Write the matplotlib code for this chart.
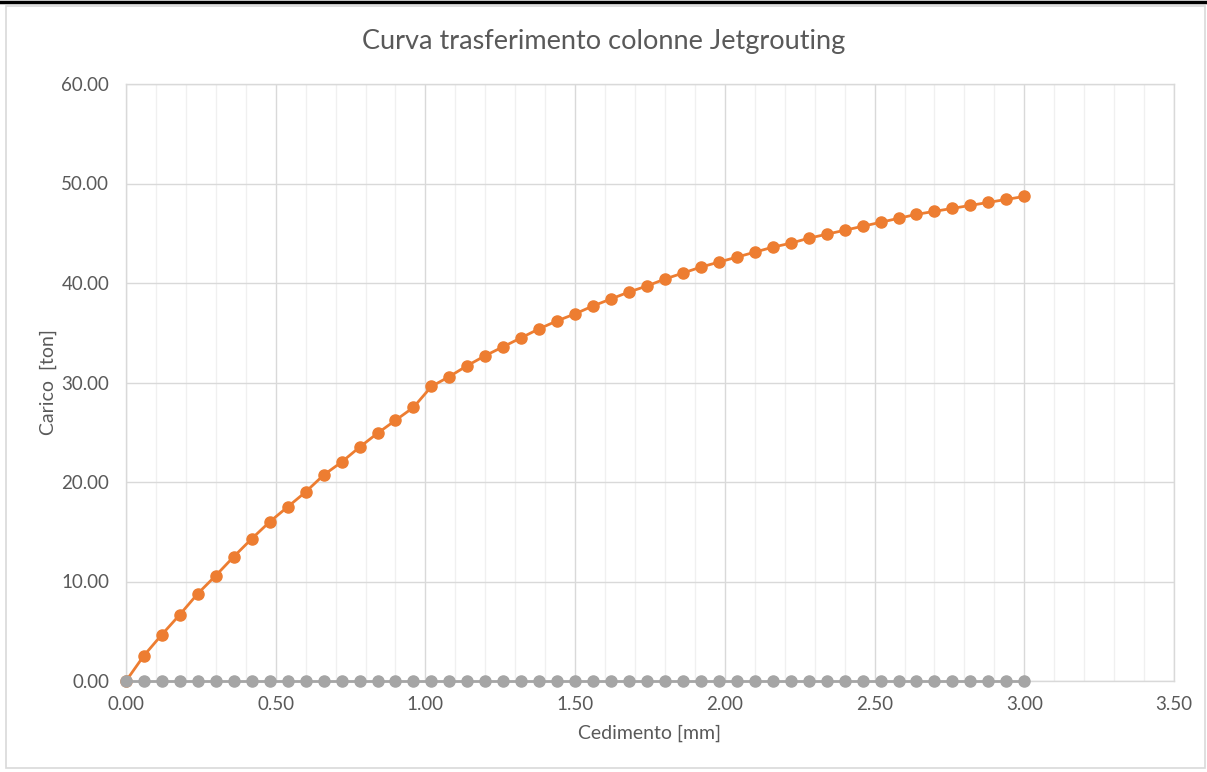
import matplotlib
matplotlib.use("Agg")
import matplotlib.pyplot as plt
from matplotlib.patches import Rectangle
from matplotlib.lines import Line2D
from matplotlib.ticker import MultipleLocator, FormatStrFormatter

plt.rcParams['font.family'] = ['Lato', 'DejaVu Sans']

# Data
cedimento = [round(0.06 * i, 2) for i in range(51)]
carico = [0.0, 2.56, 4.67, 6.68, 8.79, 10.6, 12.5, 14.3, 16.0, 17.5,
          19.0, 20.7, 22.0, 23.5, 24.9, 26.2, 27.5, 29.6, 30.6, 31.7,
          32.7, 33.6, 34.5, 35.4, 36.2, 36.9, 37.7, 38.4, 39.1, 39.7,
          40.4, 41.0, 41.6, 42.1, 42.6, 43.1, 43.6, 44.0, 44.5, 44.9,
          45.3, 45.7, 46.1, 46.5, 46.9, 47.2, 47.5, 47.8, 48.1, 48.4, 48.7]
zero_series = [0.0] * 51

title = "Curva trasferimento colonne Jetgrouting"
xlabel = "Cedimento [mm]"
ylabel = "Carico  [ton]"

W, H = 1207, 772
fig = plt.figure(figsize=(W / 100, H / 100), dpi=100)
fig.patch.set_facecolor("white")

# outer frame
fig.add_artist(Rectangle((6 / W, 4 / H), (W - 8) / W, (H - 10) / H, transform=fig.transFigure,
                         fill=False, edgecolor="#d9d9d9", linewidth=1.2))
fig.add_artist(Line2D([0, 1], [1 - 1.5 / H, 1 - 1.5 / H], transform=fig.transFigure,
                      color="black", linewidth=2.5))

ax = fig.add_axes([126 / W, (H - 681) / H, (1174 - 126) / W, (681 - 84) / H])

orange = "#ed7d31"
gray = "#a5a5a5"

ax.plot(cedimento, carico, color=orange, marker="o", markersize=8, linewidth=2, zorder=3, clip_on=False)
ax.plot(cedimento, zero_series, color=gray, marker="o", markersize=8, linewidth=2, zorder=4, clip_on=False)

ax.set_xlim(0, 3.5)
ax.set_ylim(0, 60)
ax.xaxis.set_major_locator(MultipleLocator(0.5))
ax.xaxis.set_minor_locator(MultipleLocator(0.1))
ax.yaxis.set_major_locator(MultipleLocator(10))
ax.xaxis.set_major_formatter(FormatStrFormatter("%.2f"))
ax.yaxis.set_major_formatter(FormatStrFormatter("%.2f"))

ax.grid(which="major", color="#d9d9d9", linewidth=1.0)
ax.grid(which="minor", axis="x", color="#f0f0f0", linewidth=1.0)
ax.set_axisbelow(True)

for s in ax.spines.values():
    s.set_color("#d9d9d9")
    s.set_linewidth(1.0)

ax.tick_params(which="both", length=0, colors="#595959", labelsize=13.5)
ax.tick_params(axis="x", pad=11)
ax.tick_params(axis="y", pad=12)

ax.set_xlabel(xlabel, fontsize=14, color="#595959", labelpad=8)
ax.set_ylabel(ylabel, fontsize=14, color="#595959", labelpad=3)

fig.text(0.5, 1 - 42 / H, title, ha="center", va="center", fontsize=19.5, color="#595959")

fig.savefig("out.png", dpi=100, facecolor="white")
